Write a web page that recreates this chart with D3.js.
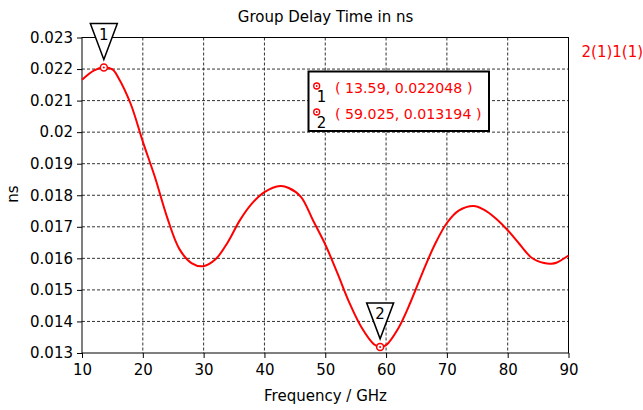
<!DOCTYPE html>
<html>
<head>
<meta charset="utf-8">
<script src="https://cdn.jsdelivr.net/npm/d3@7"></script>
<style>
  body { margin: 0; background: #fff; }
  text { font-family: "DejaVu Sans", Verdana, sans-serif; }
</style>
</head>
<body>
<div id="chart"></div>
<script>
// group delay curve (GHz, ns)
var freq = [10, 12, 13.59, 15, 16, 18, 20, 22, 24, 26, 28, 29.9, 32, 34, 36, 38, 40, 42.6, 44, 46,
  48, 50, 52, 54, 56, 58, 59.025, 60, 62, 64, 66, 68, 70, 72, 74.4, 76, 78, 80, 82, 84, 86, 87.2, 88, 90];
var delay = [0.02166, 0.02196, 0.022048, 0.02199, 0.02172, 0.02090, 0.01970, 0.01857, 0.01730, 0.01630,
  0.01585, 0.01575, 0.01598, 0.01652, 0.01722, 0.01775, 0.01810, 0.01829, 0.01823, 0.01795,
  0.01720, 0.01644, 0.01553, 0.01458, 0.01380, 0.01328, 0.013194, 0.01325, 0.01378, 0.01460,
  0.01555, 0.01643, 0.01712, 0.01752, 0.01766, 0.01755, 0.01727, 0.01689, 0.01644, 0.01601,
  0.01585, 0.01583, 0.01586, 0.01609];

var markerFreq = [13.59, 59.025];
var markerVal = [0.022048, 0.013194];
var markerLabel = ["1", "2"];

var xTicks = [10, 20, 30, 40, 50, 60, 70, 80, 90];
var yTicks = [0.013, 0.014, 0.015, 0.016, 0.017, 0.018, 0.019, 0.02, 0.021, 0.022, 0.023];

var svgWidth = 643;
var svgHeight = 410;
var margin = { top: 37.5, right: 74.5, bottom: 57, left: 82 };
var width = svgWidth - margin.left - margin.right;
var height = svgHeight - margin.top - margin.bottom;

var svg = d3.select("#chart").append("svg")
  .attr("width", svgWidth)
  .attr("height", svgHeight);

var chartGroup = svg.append("g")
  .attr("transform", `translate(${margin.left}, ${margin.top})`);

var x = d3.scaleLinear().domain([10, 90]).range([0, width]);
var y = d3.scaleLinear().domain([0.013, 0.023]).range([height, 0]);

// dashed grid
chartGroup.append("g")
  .selectAll("line").data(xTicks.slice(1, -1)).enter()
  .append("line")
  .attr("x1", d => x(d)).attr("x2", d => x(d))
  .attr("y1", 0).attr("y2", height)
  .attr("stroke", "#333").attr("stroke-dasharray", "3,2");

chartGroup.append("g")
  .selectAll("line").data(yTicks.slice(1, -1)).enter()
  .append("line")
  .attr("y1", d => y(d)).attr("y2", d => y(d))
  .attr("x1", 0).attr("x2", width)
  .attr("stroke", "#333").attr("stroke-dasharray", "3,2");

// axes
var bottomAxis = d3.axisBottom(x).tickValues(xTicks).tickSize(5).tickPadding(6).tickFormat(d3.format("d"));
var leftAxis = d3.axisLeft(y).tickValues(yTicks).tickSize(5).tickPadding(4).tickFormat(d => String(+d.toFixed(3)));

var gx = chartGroup.append("g")
  .attr("transform", `translate(0, ${height})`)
  .call(bottomAxis);
var gy = chartGroup.append("g").call(leftAxis);

[gx, gy].forEach(function(g) {
  g.select(".domain").remove();
  g.selectAll("line").attr("stroke", "#000");
  g.selectAll("text").attr("fill", "#000").style("font-size", "15px")
    .style("font-family", "DejaVu Sans, Verdana, sans-serif");
});

// frame
chartGroup.append("rect")
  .attr("width", width).attr("height", height)
  .attr("fill", "none").attr("stroke", "#000");

// curve
var line = d3.line()
  .x((d, i) => x(freq[i]))
  .y(d => y(d))
  .curve(d3.curveCatmullRom.alpha(0.5));

chartGroup.append("path")
  .datum(delay)
  .attr("d", line)
  .attr("fill", "none")
  .attr("stroke", "#ff0000")
  .attr("stroke-width", 2);

// markers
markerFreq.forEach(function(f, i) {
  var mx = x(f), my = y(markerVal[i]);
  chartGroup.append("circle")
    .attr("cx", mx).attr("cy", my).attr("r", 3.5)
    .attr("fill", "#fff").attr("stroke", "#ff0000").attr("stroke-width", 1.5);
  chartGroup.append("circle")
    .attr("cx", mx).attr("cy", my).attr("r", 1)
    .attr("fill", "#ff0000");
  var ay = my - 8;
  chartGroup.append("path")
    .attr("d", `M${mx},${ay} L${mx - 13.5},${ay - 36} L${mx + 13.5},${ay - 36} Z`)
    .attr("fill", "#fff").attr("stroke", "#000").attr("stroke-width", 1.5);
  chartGroup.append("text")
    .attr("x", mx).attr("y", ay - 36 + 16.5)
    .attr("text-anchor", "middle")
    .style("font-size", "15px")
    .text(markerLabel[i]);
});

// marker legend box
var lg = svg.append("g").attr("transform", "translate(308.5, 71.5)");
lg.append("rect")
  .attr("width", 180.5).attr("height", 59.5)
  .attr("fill", "#fff").attr("stroke", "#000").attr("stroke-width", 2);
markerFreq.forEach(function(f, i) {
  var ly = 14.5 + i * 26;
  lg.append("circle").attr("cx", 8.2).attr("cy", ly).attr("r", 3)
    .attr("fill", "none").attr("stroke", "#ff0000").attr("stroke-width", 1.3);
  lg.append("circle").attr("cx", 8.2).attr("cy", ly).attr("r", 0.9).attr("fill", "#ff0000");
  lg.append("text").attr("x", 13).attr("y", ly + 16).attr("text-anchor", "middle")
    .style("font-size", "15px").attr("fill", "#000").text(markerLabel[i]);
  lg.append("text").attr("x", 26.5).attr("y", ly + 6.5)
    .style("font-size", "14.2px").attr("fill", "#ff0000")
    .text(`( ${f}, ${markerVal[i]} )`);
});

// titles
svg.append("text")
  .attr("x", 325.5).attr("y", 22)
  .attr("text-anchor", "middle")
  .style("font-size", "15px")
  .text("Group Delay Time in ns");

svg.append("text")
  .attr("x", 325.5).attr("y", 401)
  .attr("text-anchor", "middle")
  .style("font-size", "15px")
  .text("Frequency / GHz");

svg.append("text")
  .attr("transform", "rotate(-90)")
  .attr("x", -194).attr("y", 18)
  .attr("text-anchor", "middle")
  .style("font-size", "15px")
  .text("ns");

svg.append("text")
  .attr("x", 581.5).attr("y", 57)
  .style("font-size", "15px")
  .attr("fill", "#ff0000")
  .text("2(1)1(1)");
</script>
</body>
</html>
